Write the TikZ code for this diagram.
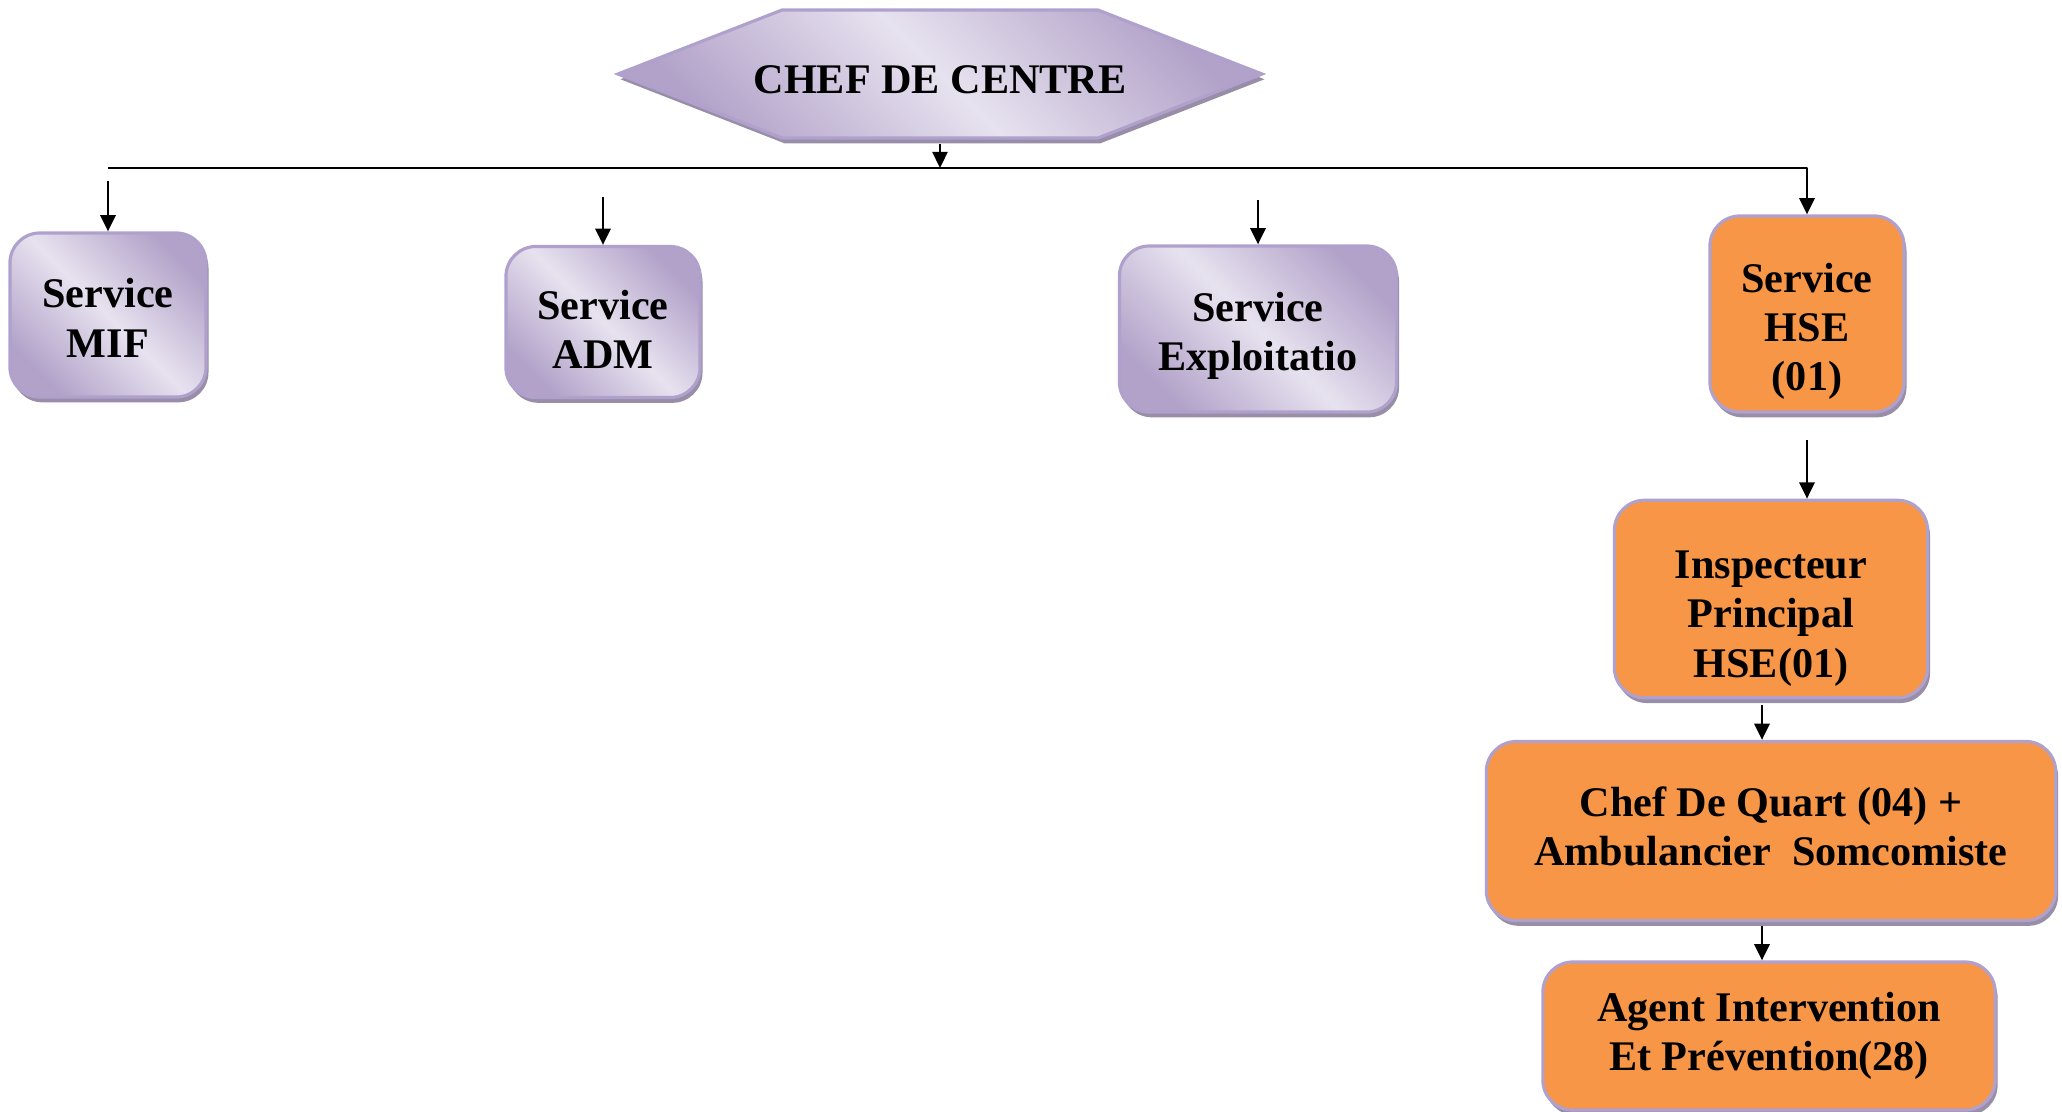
\documentclass[tikz,border=0pt]{standalone}
\usepackage{fontspec}
\setmainfont{Liberation Serif}
\usetikzlibrary{arrows.meta,shadows,backgrounds}
\definecolor{plight}{RGB}{231,226,239}
\definecolor{pdark}{RGB}{178,162,201}
\definecolor{pedge}{RGB}{176,160,204}
\definecolor{pshadow}{RGB}{152,142,168}
\definecolor{hseorange}{RGB}{247,150,70}
\begin{document}
\begin{tikzpicture}[x=0.01cm, y=-0.01cm, line join=round, >={Triangle[length=4.6pt,width=4.3pt]},
	unitbox/.style={rounded corners=0.3cm, draw=pedge, line width=0.9pt, align=center, font=\fontsize{12}{14}\selectfont\bfseries,
		drop shadow={shadow xshift=0.7pt, shadow yshift=-1.5pt, fill=pshadow, opacity=1}},
	purplebox/.style={unitbox, left color=pdark, right color=pdark, middle color=plight, shading angle=135},
	hsebox/.style={unitbox, fill=hseorange},
	hexa/.style={draw=pedge, line width=0.9pt, left color=pdark, right color=pdark, middle color=plight, shading angle=135,
		drop shadow={shadow xshift=0.7pt, shadow yshift=-1.5pt, fill=pshadow, opacity=1}},
	link/.style={->, line width=0.7pt}]
	\useasboundingbox (0,0) rectangle (2062,1111);
	% top of the chart
	\node[font=\fontsize{12}{14}\selectfont\bfseries] (chef) at (940,80) {CHEF DE CENTRE};
	\begin{scope}[on background layer]
		\shade[hexa] (chef.center) ++(-322,-6) -- ++(164,-64) -- ++(316,0) -- ++(164,64) -- ++(-164,64) -- ++(-316,0) -- cycle;
	\end{scope}
	% services
	\node[purplebox, minimum width=1.96cm, minimum height=1.64cm, text height=0.84cm] (mif) at (108,315) {Service\\MIF};
	\node[purplebox, minimum width=1.94cm, minimum height=1.51cm, text height=0.94cm] (adm) at (603,322) {Service\\ADM};
	\node[purplebox, minimum width=2.77cm, minimum height=1.66cm, text height=0.92cm] (exp) at (1258,329) {Service\\Exploitatio};
	\node[hsebox, minimum width=1.94cm, minimum height=1.96cm, text height=1.62cm] (hse) at (1807,314) {Service\\HSE\\(01)};
	% HSE branch
	\node[hsebox, minimum width=3.13cm, minimum height=1.96cm, text height=1.65cm] (insp) at (1771,599) {Inspecteur\\Principal\\HSE(01)};
	\node[hsebox, minimum width=5.69cm, minimum height=1.79cm, text height=0.70cm] (quart) at (1771,831) {Chef De Quart (04) +\\Ambulancier~~Somcomiste};
	\node[hsebox, minimum width=4.52cm, minimum height=1.48cm] (agent) at (1769,1036) {Agent Intervention\\Et Prévention(28)};
	% connectors
	\coordinate (barL) at (108,168);
	\draw[link, shorten <=1pt] (chef.center |- 0,140) -- (chef.center |- barL);
	\draw[link] (barL) -| (hse);
	\foreach \n/\t in {mif/181,adm/197,exp/200}
		\draw[link] (\n.north |- 0,\t) -- (\n.north);
	\draw[link] (hse.south |- 0,440) -- (hse.south |- insp.north);
	\draw[link, shorten <=1.5pt] (1762,0 |- insp.south) -- (1762,0 |- quart.north);
	\draw[link, shorten <=1pt] (1762,0 |- quart.south) -- (1762,0 |- agent.north);
\end{tikzpicture}
\end{document}
